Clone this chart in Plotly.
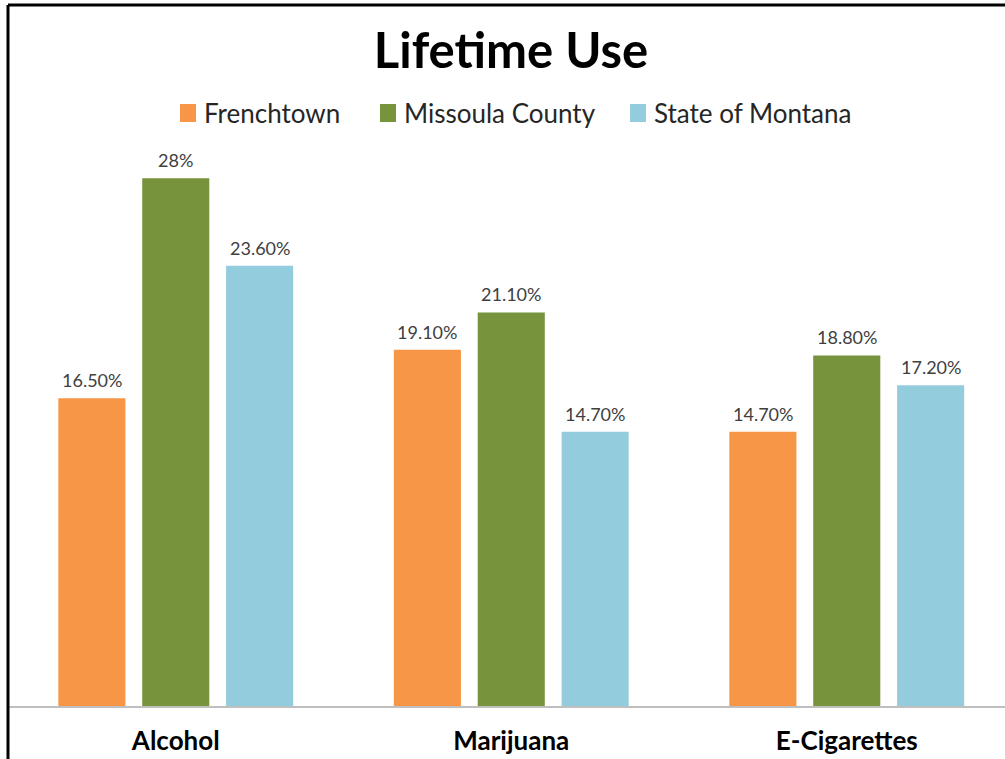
import plotly.graph_objects as go

categories = ["Alcohol", "Marijuana", "E-Cigarettes"]
series_names = ["Frenchtown", "Missoula County", "State of Montana"]
frenchtown = [16.5, 19.1, 14.7]
missoula = [28.3, 21.1, 18.8]
montana = [23.6, 14.7, 17.2]
frenchtown_labels = ["16.50%", "19.10%", "14.70%"]
missoula_labels = ["28%", "21.10%", "18.80%"]
montana_labels = ["23.60%", "14.70%", "17.20%"]
colors = ["#F79646", "#77933C", "#93CDDD"]

W, H = 1005, 759
ml, mr, mt, mb = 8, 0, 150, 53
plot_h = H - mt - mb
px_per_unit = 18.65
ymax = plot_h / px_per_unit
px_per_cat = 335.5
plot_w = W - ml - mr
xmax = -0.5 + plot_w / px_per_cat

font = "Lato, 'Open Sans', sans-serif"


def px_x(x):
    return (x - ml) / plot_w


def px_y(y):
    return (H - mb - y) / plot_h


fig = go.Figure()
offsets = [-0.35, -0.1, 0.15]
for name, vals, labels, col, off in zip(series_names, [frenchtown, missoula, montana],
                                        [frenchtown_labels, missoula_labels, montana_labels],
                                        colors, offsets):
    fig.add_trace(go.Bar(
        x=categories, y=vals, name=name,
        marker=dict(color=col, line=dict(width=0)),
        width=0.2, offset=off,
        cliponaxis=False, showlegend=False,
    ))
    # data labels centred over each bar
    for cat, v, lab in zip(categories, vals, labels):
        fig.add_annotation(x=cat, y=v, text=lab, showarrow=False,
                           xanchor="center", yanchor="bottom",
                           xshift=(off + 0.1) * px_per_cat, yshift=5,
                           font=dict(size=18, color="#404040", family=font))

# manual legend
legend_sq_x = [180, 380, 630]
for name, col, sx in zip(series_names, colors, legend_sq_x):
    fig.add_shape(type="rect", xref="paper", yref="paper",
                  x0=px_x(sx), x1=px_x(sx + 16), y0=px_y(122), y1=px_y(104),
                  fillcolor=col, line=dict(width=0))
    fig.add_annotation(text=name, xref="paper", yref="paper",
                       x=px_x(sx + 22), y=px_y(113), xanchor="left", yanchor="middle",
                       showarrow=False,
                       font=dict(size=26, color="#262626", family=font))

# chart border (left and top)
fig.add_shape(type="line", xref="paper", yref="paper", x0=0, x1=0,
              y0=px_y(H), y1=px_y(5), line=dict(color="black", width=3))
fig.add_shape(type="line", xref="paper", yref="paper", x0=0, x1=1.01,
              y0=px_y(5), y1=px_y(5), line=dict(color="black", width=3))

fig.update_layout(
    width=W, height=H,
    margin=dict(l=ml, r=mr, t=mt, b=mb, pad=0),
    paper_bgcolor="white", plot_bgcolor="white",
    barmode="overlay",
    showlegend=False,
    title=dict(text="<b>Lifetime Use</b>", x=511 / W, xanchor="center",
               y=1 - 51 / H, yanchor="middle", yref="container",
               font=dict(size=49, color="black", family=font)),
    xaxis=dict(range=[-0.5, xmax], showline=True, linecolor="#BFBFBF", linewidth=2,
               ticks="", showgrid=False, zeroline=False,
               tickfont=dict(size=26, color="black", family=font),
               tickprefix="<b>", ticksuffix="</b>", ticklabelstandoff=11),
    yaxis=dict(range=[0, ymax], visible=False, showgrid=False, zeroline=False),
)

fig.write_html("out.html")
